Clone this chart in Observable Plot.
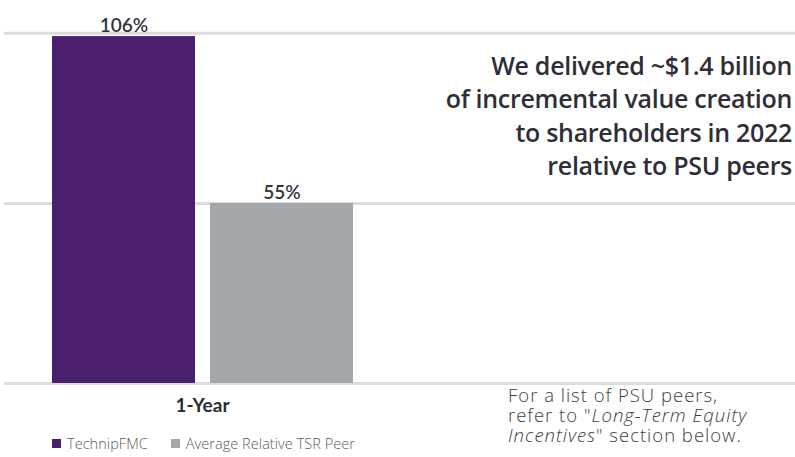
<!DOCTYPE html>
<html>
<head>
<meta charset="utf-8">
<script src="https://cdn.jsdelivr.net/npm/d3@7"></script>
<script src="https://cdn.jsdelivr.net/npm/@observablehq/plot@0.6"></script>
<style>
  html, body { margin: 0; padding: 0; background: #fff; }
  #wrap { position: relative; width: 795px; height: 457px; overflow: hidden; font-family: Lato, sans-serif; }
  #chart { position: absolute; left: 0; top: 0; }
  #legend { position: absolute; left: 52px; top: 433px; }
  .lg-swatches { font-family: "Open Sans", sans-serif; font-size: 14.5px; letter-spacing: 0.05px; color: #5a5a5a; font-weight: 300; min-height: 20px; }
  .lg-swatch { margin-right: 23px !important; }
  .lg-swatch > svg { margin-right: 6px !important; }
  #headline { position: absolute; right: 3px; top: 49px; text-align: right; font-family: "Open Sans", sans-serif; font-size: 25px; line-height: 33.3px; font-weight: 600; color: #2e2e38; letter-spacing: -0.3px; }
  #note { position: absolute; left: 508px; top: 385px; font-family: "Open Sans", sans-serif; font-size: 18.5px; line-height: 20px; letter-spacing: 1px; color: #3c3c3c; font-weight: 300; }
</style>
</head>
<body>
<div id="wrap">
  <div id="chart"></div>
  <div id="legend"></div>
  <div id="headline">We delivered ~$1.4 billion<br>of incremental value creation<br>to shareholders in 2022<br>relative to PSU peers</div>
  <div id="note">For a list of PSU peers,<br>refer to "<i>Long-Term Equity</i><br><i>Incentives</i>" section below.</div>
</div>
<script>
const period = "1-Year";
const series = ["TechnipFMC", "Average Relative TSR Peer"];
const values = [106, 55];
const labels = ["106%", "55%"];
const colors = ["#4a1f6e", "#a5a8ab"];
const gridValues = [0, 55, 107];

const data = series.map((s, i) => ({series: s, value: values[i], label: labels[i]}));

const plot = Plot.plot({
  width: 795,
  height: 420,
  marginLeft: 4,
  marginRight: 0,
  marginTop: 0,
  marginBottom: 37,
  style: {fontFamily: "Lato, sans-serif", background: "#fff"},
  x: {domain: series, range: [52, 353], paddingInner: 0.095, paddingOuter: 0, axis: null},
  y: {domain: [0, 110], range: [383, 23], axis: null},
  color: {domain: series, range: colors},
  marks: [
    Plot.ruleY(gridValues, {stroke: "#dcdcdc", strokeWidth: 3}),
    Plot.barY(data, {x: "series", y: "value", fill: "series"}),
    Plot.text(data, {x: "series", y: "value", text: "label", lineAnchor: "bottom", dy: -5, fontSize: 19, fontWeight: 600, fill: "#333340"})
  ]
});
document.getElementById("chart").appendChild(plot);

// category label "1-Year" centred under the group, positioned from Plot's own x and y scales
const xs = plot.scale("x");
const ys = plot.scale("y");
d3.select(plot).append("text")
  .attr("x", (xs.range[0] + xs.range[1]) / 2)
  .attr("y", ys.apply(0) + 29)
  .attr("text-anchor", "middle")
  .attr("font-size", 19)
  .attr("font-weight", 700)
  .attr("fill", "#2b2b33")
  .text(period);

const legend = plot.legend("color", {swatchSize: 9, className: "lg"});
document.getElementById("legend").appendChild(legend);
</script>
</body>
</html>
